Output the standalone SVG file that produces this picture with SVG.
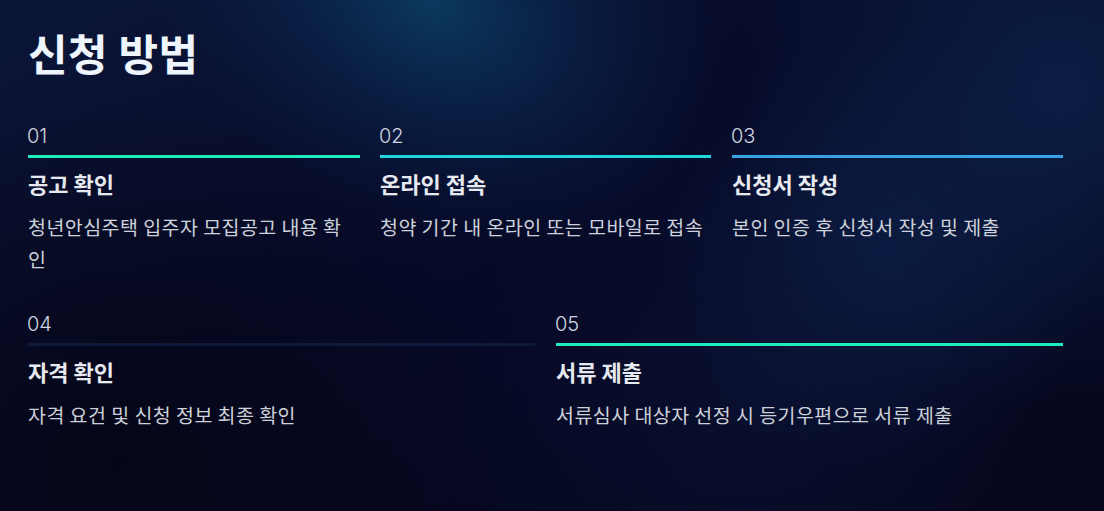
<svg xmlns="http://www.w3.org/2000/svg" width="1104" height="511" viewBox="0 0 1104 511">
  <defs>
    <linearGradient id="base" x1="0" y1="0" x2="1" y2="1">
      <stop offset="0" stop-color="#0b1638"/>
      <stop offset="0.45" stop-color="#070a28"/>
      <stop offset="1" stop-color="#05061a"/>
    </linearGradient>
    <radialGradient id="glowTop" cx="430" cy="0" r="320" gradientUnits="userSpaceOnUse" gradientTransform="translate(430 0) rotate(30) scale(1 0.7) translate(-430 0)">
      <stop offset="0" stop-color="#0b3a5e" stop-opacity="1"/>
      <stop offset="0.5" stop-color="#0a2850" stop-opacity="0.55"/>
      <stop offset="1" stop-color="#0a1a40" stop-opacity="0"/>
    </radialGradient>
    <radialGradient id="glowRight" cx="1060" cy="90" r="320" gradientUnits="userSpaceOnUse">
      <stop offset="0" stop-color="#0c2048" stop-opacity="0.9"/>
      <stop offset="1" stop-color="#0c2048" stop-opacity="0"/>
    </radialGradient>
    <radialGradient id="glowMid" cx="880" cy="250" r="220" gradientUnits="userSpaceOnUse">
      <stop offset="0" stop-color="#0d1f48" stop-opacity="0.7"/>
      <stop offset="1" stop-color="#0d1f48" stop-opacity="0"/>
    </radialGradient>
    <radialGradient id="glowLow" cx="760" cy="400" r="300" gradientUnits="userSpaceOnUse">
      <stop offset="0" stop-color="#0b1438" stop-opacity="0.6"/>
      <stop offset="1" stop-color="#0b1438" stop-opacity="0"/>
    </radialGradient>
    <radialGradient id="darkLeft" cx="120" cy="460" r="380" gradientUnits="userSpaceOnUse">
      <stop offset="0" stop-color="#050514" stop-opacity="0.8"/>
      <stop offset="1" stop-color="#050514" stop-opacity="0"/>
    </radialGradient>
  </defs>
  <style>
    .title { font-family: "Noto Sans CJK KR", "Noto Sans", sans-serif; font-weight: 700; font-size: 43px; letter-spacing: 0.5px; fill: #eef5fc; }
    .num { font-family: Inter, "Noto Sans", sans-serif; font-weight: 300; font-size: 20px; fill: #cfd5e0; }
    .head { font-family: "Noto Sans CJK KR", sans-serif; font-weight: 700; font-size: 22px; fill: #e6e9ef; }
    .desc { font-family: "Noto Sans CJK KR", sans-serif; font-weight: 400; font-size: 19.5px; letter-spacing: 0.45px; fill: #cdd1da; }
  </style>
  <rect width="1104" height="511" fill="url(#base)"/>
  <rect width="1104" height="511" fill="url(#darkLeft)"/>
  <rect width="1104" height="511" fill="url(#glowLow)"/>
  <rect width="1104" height="511" fill="url(#glowMid)"/>
  <rect width="1104" height="511" fill="url(#glowRight)"/>
  <rect width="1104" height="511" fill="url(#glowTop)"/>

  <text class="title" x="28" y="71">신청 방법</text>

  <g id="step1">
    <text class="num" x="27" y="143">01</text>
    <rect x="28" y="155" width="332" height="3" fill="#1fecbc"/>
    <text class="head" x="28" y="193">공고 확인</text>
    <text class="desc" x="28" y="235">청년안심주택 입주자 모집공고 내용 확</text>
    <text class="desc" x="28" y="267">인</text>
  </g>
  <g id="step2">
    <text class="num" x="379" y="143">02</text>
    <rect x="380" y="155" width="331" height="3" fill="#20d6dc"/>
    <text class="head" x="380" y="193">온라인 접속</text>
    <text class="desc" x="380" y="235">청약 기간 내 온라인 또는 모바일로 접속</text>
  </g>
  <g id="step3">
    <text class="num" x="731" y="143">03</text>
    <rect x="732" y="155" width="331" height="3" fill="#37a2e6"/>
    <text class="head" x="732" y="193">신청서 작성</text>
    <text class="desc" x="732" y="235">본인 인증 후 신청서 작성 및 제출</text>
  </g>
  <g id="step4">
    <text class="num" x="27" y="331">04</text>
    <rect x="28" y="343" width="507" height="3" fill="#0f1a3a"/>
    <text class="head" x="28" y="381">자격 확인</text>
    <text class="desc" x="28" y="423">자격 요건 및 신청 정보 최종 확인</text>
  </g>
  <g id="step5">
    <text class="num" x="555" y="331">05</text>
    <rect x="556" y="343" width="507" height="3" fill="#1fecbc"/>
    <text class="head" x="556" y="381">서류 제출</text>
    <text class="desc" x="556" y="423">서류심사 대상자 선정 시 등기우편으로 서류 제출</text>
  </g>
  <g id="connectors"></g>
</svg>
